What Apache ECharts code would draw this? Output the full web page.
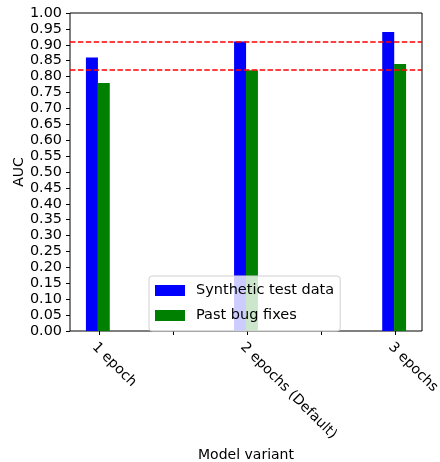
<!DOCTYPE html>
<html>
<head>
<meta charset="utf-8">
<script src="https://cdn.jsdelivr.net/npm/echarts@6/dist/echarts.min.js"></script>
<style>html,body{margin:0;padding:0;background:#fff;}#c{width:440px;height:462px;}</style>
</head>
<body>
<div id="c"></div>
<script>
var categories = ['1 epoch', '2 epochs (Default)', '3 epochs'];
var syntheticTestData = [0.86, 0.91, 0.94];
var pastBugFixes = [0.78, 0.82, 0.84];
var referenceLines = [0.91, 0.82];

var FONT = 'DejaVu Sans';
var blueOffset = -0.05, greenOffset = 0.03;
function pos(i) { return i + 1; }
var blueData = syntheticTestData.map(function (v, i) { return [pos(i) + blueOffset, v]; });
var greenData = pastBugFixes.map(function (v, i) { return [pos(i) + greenOffset, v]; });

var chart = echarts.init(document.getElementById('c'), null, {renderer: 'canvas'});
chart.setOption({
  animation: false,
  textStyle: {fontFamily: FONT, color: '#000'},
  grid: {left: 70, right: 18, top: 13, bottom: 131, containLabel: false, outerBoundsMode: 'none',
         show: true, borderColor: '#000', borderWidth: 1, backgroundColor: 'transparent'},
  legend: {
    orient: 'vertical', left: 149, top: 276,
    padding: [7, 6, 8, 6],
    itemWidth: 30, itemHeight: 11, itemGap: 10,
    icon: 'rect',
    backgroundColor: 'rgba(255,255,255,0.8)',
    borderColor: '#d0d0d0', borderWidth: 1, borderRadius: 3,
    textStyle: {fontFamily: FONT, fontSize: 14.5, lineHeight: 11, color: '#000', padding: [0, 0, 0, 6]},
    data: ['Synthetic test data', 'Past bug fixes']
  },
  xAxis: {
    type: 'value', min: 0.802, max: 3.178,
    name: 'Model variant', nameLocation: 'middle', nameGap: 117, nameMoveOverlap: false,
    nameTextStyle: {fontFamily: FONT, fontSize: 14, color: '#000'},
    splitLine: {show: false},
    axisLine: {show: false, onZero: false},
    axisTick: {show: true, length: 4, lineStyle: {color: '#000'}, customValues: [1, 1.5, 2, 2.5, 3]},
    axisLabel: {
      customValues: [1, 2, 3], rotate: -45, margin: 9, hideOverlap: false,
      verticalAlign: 'top', align: 'left',
      fontFamily: FONT, fontSize: 14, color: '#000',
      formatter: function (v) { var i = Math.round(v) - 1; return categories[i] || ''; }
    }
  },
  yAxis: {
    type: 'value', min: 0, max: 1, interval: 0.05,
    name: 'AUC', nameLocation: 'middle', nameGap: 44, nameRotate: 90, nameMoveOverlap: false,
    nameTextStyle: {fontFamily: FONT, fontSize: 14, color: '#000'},
    splitLine: {show: false},
    axisLine: {show: false},
    axisTick: {show: true, length: 4, lineStyle: {color: '#000'}},
    axisLabel: {
      margin: 8, fontFamily: FONT, fontSize: 14.4, color: '#000', hideOverlap: false,
      formatter: function (v) { return v.toFixed(2); }
    }
  },
  series: [
    {
      name: 'Synthetic test data', type: 'bar', data: blueData,
      barWidth: 12, barGap: '-100%', itemStyle: {color: '#0000ff'},
      markLine: {
        silent: true, symbol: 'none', label: {show: false},
        lineStyle: {color: '#ff0000', type: [5.5, 2.4], width: 1.5, opacity: 1},
        data: referenceLines.map(function (v) { return {yAxis: v}; })
      }
    },
    {
      name: 'Past bug fixes', type: 'bar', data: greenData,
      barWidth: 12, barGap: '-100%', itemStyle: {color: '#008000'}
    }
  ]
});
</script>
</body>
</html>
